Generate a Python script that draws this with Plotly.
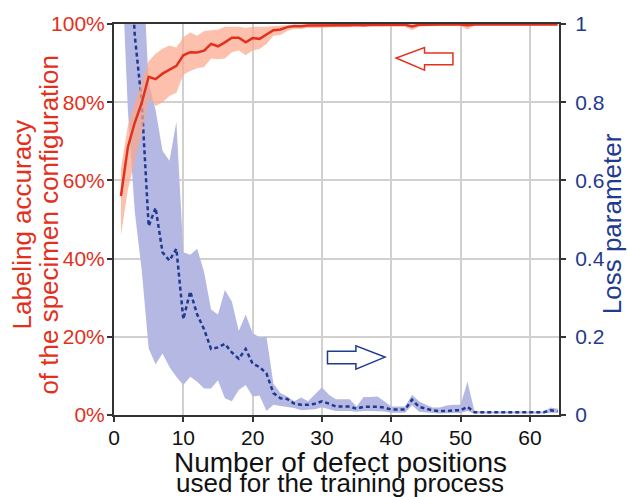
import plotly.graph_objects as go

# ---------------- data ----------------
positions = list(range(1, 65))

accuracy = [56.0, 68.5, 74.8, 79.8, 86.5, 85.9, 87.3, 88.2, 89.3, 92.0,
            92.8, 92.7, 93.2, 94.9, 94.3, 95.3, 96.5, 96.5, 95.3, 96.4,
            96.2, 97.3, 98.4, 98.6, 99.2, 99.5, 99.4, 99.6, 99.6, 99.6,
            99.7, 99.7, 99.7, 99.7, 99.8, 99.7, 99.8, 99.8, 99.8, 99.8,
            99.8, 99.8, 99.4, 99.8, 99.8, 99.9, 99.9, 99.9, 99.9, 99.9,
            99.7, 99.9, 99.9, 99.9, 99.9, 99.9, 99.9, 99.9, 99.9, 99.9,
            99.9, 99.9, 99.9, 99.9]

acc_upper = [63.0, 74.0, 80.0, 85.5, 90.5, 92.4, 93.7, 94.5, 94.0, 96.6,
             97.8, 97.0, 98.2, 98.4, 98.5, 99.3, 99.3, 99.3, 99.0, 99.3,
             99.3, 99.3, 99.5, 99.6, 99.8, 99.9, 99.9, 100, 100, 100,
             100, 100, 100, 100, 100, 100, 100, 100, 100, 100,
             100, 100, 100, 100, 100, 100, 100, 100, 100, 100,
             100, 100, 100, 100, 100, 100, 100, 100, 100, 100,
             100, 100, 100, 100]

acc_lower = [46.0, 57.6, 65.0, 72.0, 81.0, 79.0, 80.0, 81.6, 82.4, 87.0,
             88.0, 88.7, 89.0, 91.2, 91.0, 91.2, 92.8, 93.2, 92.0, 93.2,
             93.6, 94.9, 97.0, 97.2, 98.2, 98.8, 98.7, 99.0, 99.0, 99.0,
             99.2, 99.2, 99.2, 99.2, 99.3, 99.2, 99.3, 99.3, 99.3, 99.3,
             99.3, 99.3, 98.4, 99.3, 99.4, 99.5, 99.5, 99.5, 99.5, 99.4,
             98.6, 99.6, 99.6, 99.6, 99.6, 99.6, 99.6, 99.6, 99.6, 99.6,
             99.6, 99.6, 99.6, 99.6]

loss = [2.0, 1.3, 0.97, 0.80, 0.483, 0.53, 0.416, 0.395, 0.425, 0.245,
        0.316, 0.257, 0.219, 0.169, 0.173, 0.182, 0.16, 0.144, 0.169, 0.131,
        0.123, 0.106, 0.056, 0.043, 0.041, 0.029, 0.026, 0.026, 0.029, 0.035,
        0.029, 0.022, 0.022, 0.022, 0.016, 0.021, 0.021, 0.021, 0.019, 0.014,
        0.014, 0.014, 0.039, 0.021, 0.016, 0.012, 0.010, 0.010, 0.012, 0.012,
        0.021, 0.007, 0.007, 0.007, 0.007, 0.007, 0.007, 0.007, 0.007, 0.007,
        0.007, 0.007, 0.012, 0.010]

loss_upper = [3.0, 2.5, 1.8, 1.2, 0.85, 0.78, 0.676, 0.65, 0.75, 0.416,
              0.41, 0.425, 0.366, 0.27, 0.257, 0.32, 0.29, 0.215, 0.257, 0.21,
              0.198, 0.2, 0.08, 0.056, 0.047, 0.035, 0.045, 0.035, 0.052, 0.071,
              0.052, 0.04, 0.04, 0.04, 0.022, 0.046, 0.046, 0.047, 0.035, 0.022,
              0.022, 0.022, 0.052, 0.035, 0.026, 0.019, 0.019, 0.024, 0.026, 0.026,
              0.085, 0.010, 0.009, 0.009, 0.009, 0.009, 0.009, 0.009, 0.009, 0.009,
              0.009, 0.009, 0.019, 0.016]

loss_lower = [1.2, 0.78, 0.52, 0.37, 0.17, 0.13, 0.157, 0.123, 0.098, 0.077,
              0.098, 0.085, 0.068, 0.068, 0.089, 0.043, 0.035, 0.064, 0.077, 0.047,
              0.05, 0.01, 0.026, 0.023, 0.02, 0.018, 0.012, 0.014, 0.015, 0.02,
              0.015, 0.01, 0.01, 0.01, 0.008, 0.01, 0.01, 0.01, 0.009, 0.006,
              0.006, 0.006, 0.025, 0.008, 0.006, 0.005, 0.004, 0.004, 0.005, 0.005,
              0.01, 0.004, 0.004, 0.004, 0.004, 0.004, 0.004, 0.004, 0.004, 0.004,
              0.004, 0.004, 0.006, 0.005]

x_ticks = [0, 10, 20, 30, 40, 50, 60]
acc_ticks = [0, 20, 40, 60, 80, 100]
acc_tick_labels = ["0%", "20%", "40%", "60%", "80%", "100%"]
loss_ticks = [0, 0.2, 0.4, 0.6, 0.8, 1]
loss_tick_labels = ["0", "0.2", "0.4", "0.6", "0.8", "1"]

# ---------------- style ----------------
RED = "#e3301d"
BLUE = "#1f3a8f"
FONT = "Liberation Sans, Arial, sans-serif"
AXIS = "#333333"
GRID = "#d0d0d0"

fig = go.Figure()

# loss band + line (primary y axis, drawn on the right)
fig.add_trace(go.Scatter(
    x=positions + positions[::-1], y=loss_upper + loss_lower[::-1],
    fill="toself", fillcolor="#b5b8e3", line=dict(width=0),
    mode="lines", hoverinfo="skip", showlegend=False, yaxis="y"))
fig.add_trace(go.Scatter(
    x=positions, y=loss, mode="lines",
    line=dict(color=BLUE, width=2.5, dash="4px,3px"),
    showlegend=False, yaxis="y"))

# accuracy band + line (secondary y axis, drawn on the left)
fig.add_trace(go.Scatter(
    x=positions + positions[::-1], y=acc_upper + acc_lower[::-1],
    fill="toself", fillcolor="rgba(251,168,140,0.72)", line=dict(width=0),
    mode="lines", hoverinfo="skip", showlegend=False, yaxis="y2"))
fig.add_trace(go.Scatter(
    x=positions, y=accuracy, mode="lines",
    line=dict(color=RED, width=2.5),
    showlegend=False, yaxis="y2"))

fig.update_layout(
    width=628, height=497,
    margin=dict(l=114, r=69, t=18, b=82, pad=0),
    paper_bgcolor="white", plot_bgcolor="white",
    font=dict(family=FONT, size=21, color="#111111"),
    showlegend=False,
    xaxis=dict(
        range=[0, 64.2], tickvals=x_ticks, ticks="outside", ticklen=5,
        tickwidth=1.5, tickcolor=AXIS, showline=True, linecolor=AXIS,
        linewidth=2, mirror=True, showgrid=True, gridcolor=GRID,
        gridwidth=1.5, zeroline=False, ticklabelstandoff=-2,
        tickfont=dict(family=FONT, size=21, color="#111111")),
    yaxis=dict(
        side="right", range=[0, 1], tickmode="array", tickvals=loss_ticks,
        ticktext=loss_tick_labels,
        ticks="outside", ticklen=5, tickwidth=1.5, tickcolor=AXIS,
        showline=True, linecolor=AXIS, linewidth=2,
        showgrid=True, gridcolor=GRID, gridwidth=1.5, zeroline=False,
        ticklabelstandoff=5,
        tickfont=dict(family=FONT, size=21, color=BLUE)),
    yaxis2=dict(
        overlaying="y", side="left", range=[0, 100], tickmode="array",
        tickvals=acc_ticks, ticktext=acc_tick_labels,
        ticks="outside", ticklen=5, tickwidth=1.5,
        tickcolor=AXIS, showline=True, linecolor=AXIS, linewidth=2,
        showgrid=False, zeroline=False, ticklabelstandoff=-2,
        tickfont=dict(family=FONT, size=21, color=RED)),
)

# axis titles as annotations (tight line spacing like the reference)
fig.add_annotation(text="Labeling accuracy", xref="paper", yref="paper",
                   x=-0.207, y=0.487, textangle=-90, showarrow=False,
                   xanchor="center", yanchor="middle",
                   font=dict(family=FONT, size=26, color=RED))
fig.add_annotation(text="of the specimen configuration", xref="paper", yref="paper",
                   x=-0.146, y=0.487, textangle=-90, showarrow=False,
                   xanchor="center", yanchor="middle",
                   font=dict(family=FONT, size=26, color=RED))
fig.add_annotation(text="Loss parameter", xref="paper", yref="paper",
                   x=1.121, y=0.49, textangle=-90, showarrow=False,
                   xanchor="center", yanchor="middle",
                   font=dict(family=FONT, size=26, color=BLUE))
fig.add_annotation(text="Number of defect positions", xref="paper", yref="paper",
                   x=0.508, y=-0.121, showarrow=False,
                   xanchor="center", yanchor="middle",
                   font=dict(family=FONT, size=28, color="#111111"))
fig.add_annotation(text="used for the training process", xref="paper", yref="paper",
                   x=0.508, y=-0.173, showarrow=False,
                   xanchor="center", yanchor="middle",
                   font=dict(family=FONT, size=26, color="#111111"))

# outline arrows pointing to the relevant axis
fig.add_shape(type="path", xref="x", yref="y2",
              path="M 48.9,92.6 L 44.8,92.6 L 44.8,94.0 L 40.7,91.3 "
                   "L 44.8,88.2 L 44.8,89.6 L 48.9,89.6 Z",
              line=dict(color=RED, width=1.5), fillcolor="rgba(0,0,0,0)")
fig.add_shape(type="path", xref="x", yref="y",
              path="M 30.8,0.163 L 34.9,0.163 L 34.9,0.177 L 39.1,0.148 "
                   "L 34.9,0.117 L 34.9,0.131 L 30.8,0.131 Z",
              line=dict(color=BLUE, width=1.5), fillcolor="rgba(0,0,0,0)")

fig.write_html("out.html")
